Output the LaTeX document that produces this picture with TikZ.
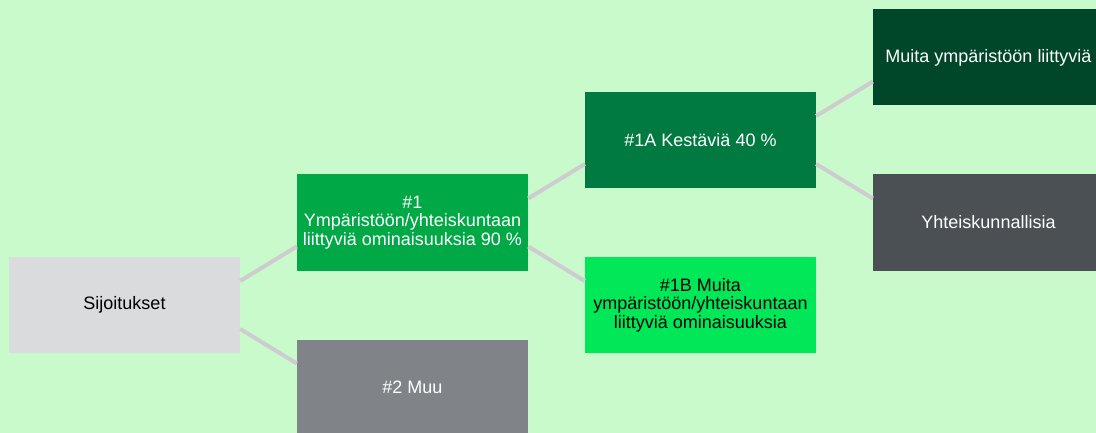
\documentclass[tikz,border=0pt]{standalone}
\usepackage{fontspec}
\setmainfont{Liberation Sans}
\definecolor{bgc}{HTML}{C8FACC}
\definecolor{linec}{HTML}{CFCCD0}
\definecolor{sijc}{HTML}{DADBDD}
\definecolor{onec}{HTML}{00A846}
\definecolor{muuc}{HTML}{808488}
\definecolor{oneac}{HTML}{007A40}
\definecolor{onebc}{HTML}{00E857}
\definecolor{muitac}{HTML}{00472A}
\definecolor{yhtc}{HTML}{4B5055}
\begin{document}
\begin{tikzpicture}[x=1pt,y=-1pt,
  box/.style={rectangle, minimum width=231pt, minimum height=96pt, inner sep=0pt,
    align=center, font=\fontsize{18}{18.5}\selectfont},
  darkbox/.style={box, text=white},
  lightbox/.style={box, text=black},
  conn/.style={draw=linec, line width=4pt}]
\useasboundingbox (0,0) rectangle (1096,433);
\clip (0,0) rectangle (1096,433);
\fill[bgc] (0,0) rectangle (1096,433);
\node[lightbox, fill=sijc] (sij) at (124.5,305) {Sijoitukset};
\node[darkbox, fill=onec] (one) at (412.5,222.5) {\#1\\Ympäristöön/yhteiskuntaan\\liittyviä ominaisuuksia 90~\%};
\node[darkbox, fill=muuc] (muu) at (412.5,387.5) {\#2 Muu};
\node[darkbox, fill=oneac] (onea) at (700.5,140) {\#1A Kestäviä 40~\%};
\node[lightbox, fill=onebc] (oneb) at (700.5,305) {\#1B Muita\\ympäristöön/yhteiskuntaan\\liittyviä ominaisuuksia};
\node[darkbox, fill=muitac] (muita) at (988.5,57.5) {Muita ympäristöön liittyviä};
\node[darkbox, fill=yhtc] (yht) at (988.5,222.5) {Yhteiskunnallisia};
\draw[conn] ([yshift=24pt]sij.east) -- ([yshift=-24pt]one.west);
\draw[conn] ([yshift=-24pt]sij.east) -- ([yshift=24pt]muu.west);
\draw[conn] ([yshift=24pt]one.east) -- ([yshift=-24pt]onea.west);
\draw[conn] ([yshift=-24pt]one.east) -- ([yshift=24pt]oneb.west);
\draw[conn] ([yshift=24pt]onea.east) -- ([yshift=-24pt]muita.west);
\draw[conn] ([yshift=-24pt]onea.east) -- ([yshift=24pt]yht.west);
\end{tikzpicture}
\end{document}
